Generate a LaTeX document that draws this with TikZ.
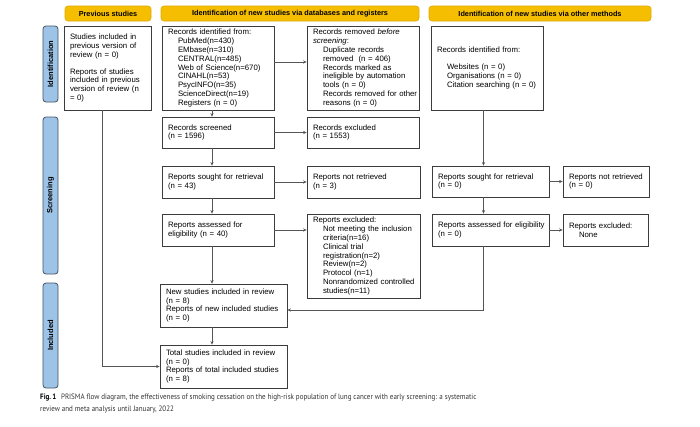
\documentclass[tikz,border=0pt]{standalone}
\usepackage{fontspec}
\setmainfont{Liberation Sans}
\newfontfamily\capfont[FakeStretch=0.9]{PT Sans}
\usetikzlibrary{arrows.meta}
\definecolor{hdr}{RGB}{246,190,0}
\definecolor{hdrline}{RGB}{222,168,0}
\definecolor{side}{RGB}{157,195,230}
\definecolor{sideline}{RGB}{70,84,100}
\definecolor{boxline}{RGB}{60,60,60}
\definecolor{conn}{RGB}{85,85,85}
\newcommand\myind{\hspace*{10pt}}
\tikzset{
  box/.style={draw=boxline, line width=0.8pt, fill=white, inner xsep=6pt, inner ysep=2pt,
    align=left, font=\fontsize{7.8}{8.8}\selectfont, anchor=center},
  hdrbox/.style={draw=hdrline, line width=0.6pt, fill=hdr, rounded corners=3pt, inner sep=0pt,
    minimum height=15pt, font=\bfseries\fontsize{7.3}{9}\selectfont, anchor=center},
  sidebox/.style={draw=sideline, line width=0.8pt, fill=side, rounded corners=3pt, inner sep=0pt,
    minimum width=15pt, anchor=center},
  sidetext/.style={rotate=90, inner sep=0pt, font=\bfseries\fontsize{7.5}{9}\selectfont},
  arr/.style={draw=conn, line width=0.8pt, -{Stealth[length=3.5pt,width=3.2pt]}}
}
\begin{document}
\begin{tikzpicture}[x=1pt,y=-1pt]
\useasboundingbox[fill=white] (0,0) rectangle (700,426);
% headers
\node[hdrbox, minimum width=86pt] (hPrev) at (108,13.5) {Previous studies};
\node[hdrbox, minimum width=258pt] (hDb) at (290,13.5) {Identification of new studies via databases and registers};
\node[hdrbox, minimum width=222pt] (hOther) at (540,13.5) {Identification of new studies via other methods};
% side labels
\node[sidebox, minimum height=76pt] (sId) at (50.5,64) {};
\node[sidetext] (tId) at (sId) {Identification};
\node[sidebox, minimum height=157pt] (sScr) at (50.5,195.5) {};
\node[sidetext] (tScr) at (sScr) {Screening};
\node[sidebox, minimum height=105pt] (sInc) at (50.5,335.5) {};
\node[sidetext] (tInc) at (sInc) {Included};
% previous studies
\node[box, text width=75pt, minimum height=84pt] (prev) at (107.5,68) {Studies included in\\ previous version of\\ review (n = 0)\\[8pt] Reports of studies\\ included in previous\\ version of review (n\\ = 0)};
% databases column
\node[box, text width=100pt, minimum height=84pt] (rid) at (218,68) {Records identified from:\\ \myind PubMed(n=430)\\ \myind EMbase(n=310)\\ \myind CENTRAL(n=485)\\ \myind Web of Science(n=670)\\ \myind CINAHL(n=53)\\ \myind PsycINFO(n=35)\\ \myind ScienceDirect(n=19)\\ \myind Registers (n = 0)};
\node[box, text width=100pt, minimum height=84pt] (rrm) at (363,68) {Records removed \textit{before}\\ \textit{screening}:\\ \myind Duplicate records\\ \myind removed\ \ (n = 406)\\ \myind Records marked as\\ \myind \mbox{ineligible by automation}\\ \myind tools (n = 0)\\ \myind \mbox{Records removed for other}\\ \myind reasons (n = 0)};
\node[box, text width=100pt, minimum height=31pt] (rscr) at (218,132.5) {Records screened\\ (n = 1596)};
\node[box, text width=100pt, minimum height=31pt] (rexc) at (363,132.5) {Records excluded\\ (n = 1553)};
\node[box, text width=100pt, minimum height=32pt] (rsought) at (218,182) {\mbox{Reports sought for retrieval}\\ (n = 43)};
\node[box, text width=101pt, minimum height=32pt] (rnot) at (363.5,182) {Reports not retrieved\\ (n = 3)};
\node[box, text width=100pt, minimum height=32pt] (rass) at (218,230) {Reports assessed for\\ eligibility (n = 40)};
\node[box, text width=101pt, minimum height=84pt] (rexcl) at (363.5,256) {Reports excluded:\\ \myind \mbox{Not meeting the inclusion}\\ \myind criteria(n=16)\\ \myind Clinical trial\\ \myind registration(n=2)\\ \myind Review(n=2)\\ \myind Protocol (n=1)\\ \myind \mbox{Nonrandomized controlled}\\ \myind studies(n=11)};
\node[box, text width=115pt, minimum height=43pt] (newst) at (223.5,305.5) {\mbox{New studies included in review}\\ (n = 8)\\ \mbox{Reports of new included studies}\\ (n = 0)};
\node[box, text width=115pt, minimum height=43pt] (total) at (223.5,366.5) {\mbox{Total studies included in review}\\ (n = 0)\\ \mbox{Reports of total included studies}\\ (n = 8)};
% other methods column
\node[box, text width=100pt, minimum height=84pt] (orid) at (487,68) {Records identified from:\\[8pt] \myind Websites (n = 0)\\ \myind Organisations (n = 0)\\ \myind \mbox{Citation searching (n = 0)}};
\node[box, text width=105pt, minimum height=31pt] (osought) at (490.5,181.5) {\mbox{Reports sought for retrieval}\\ (n = 0)};
\node[box, text width=74pt, minimum height=31pt] (onot) at (606,181.5) {\mbox{Reports not retrieved}\\ (n = 0)};
\node[box, text width=105pt, minimum height=32pt] (oass) at (490.5,230) {\mbox{Reports assessed for eligibility}\\ (n = 0)};
\node[box, text width=73pt, minimum height=32pt] (oexcl) at (605.5,230) {Reports excluded:\\ \myind None};
% connectors
\draw[arr] ([yshift=6pt]rid.east) -- ([yshift=6pt]rid.east -| rrm.west);
\draw[arr] ([xshift=-6pt]rid.south) -- ([xshift=-6pt]rscr.north);
\draw[arr] (rscr.east) -- (rscr.east -| rexc.west);
\draw[arr] ([xshift=-6pt]rscr.south) -- ([xshift=-6pt]rsought.north);
\draw[arr] (rsought.east) -- (rsought.east -| rnot.west);
\draw[arr] ([xshift=-6pt]rsought.south) -- ([xshift=-6pt]rass.north);
\draw[arr] (rass.east) -- (rass.east -| rexcl.west);
\draw[arr] ([xshift=-6pt]rass.south) -- ([xshift=-11.5pt]newst.north);
\draw[arr] ([xshift=-11.5pt]newst.south) -- ([xshift=-11.5pt]total.north);
\draw[arr] ([xshift=-5.5pt]prev.south) |- (total.west);
\draw[arr] ([xshift=-3.5pt]orid.south) -- ([xshift=-7pt]osought.north);
\draw[arr] (osought.east) -- (osought.east -| onot.west);
\draw[arr] ([xshift=-7pt]osought.south) -- ([xshift=-7pt]oass.north);
\draw[arr] (oass.east) -- (oass.east -| oexcl.west);
\draw[arr] ([xshift=-7pt]oass.south) |- ([yshift=-4.5pt]newst.east);
% caption
\node[anchor=north west, align=left, inner sep=0pt, font=\capfont\fontsize{7.8}{12}\selectfont, text=black!80] (cap) at (40,394) {\textbf{\color{black}Fig.\,1}\hspace{0.6em}PRISMA flow diagram, the effectiveness of smoking cessation on the high-risk population of lung cancer with early screening: a systematic\\ review and meta analysis until January, 2022};
\end{tikzpicture}
\end{document}
